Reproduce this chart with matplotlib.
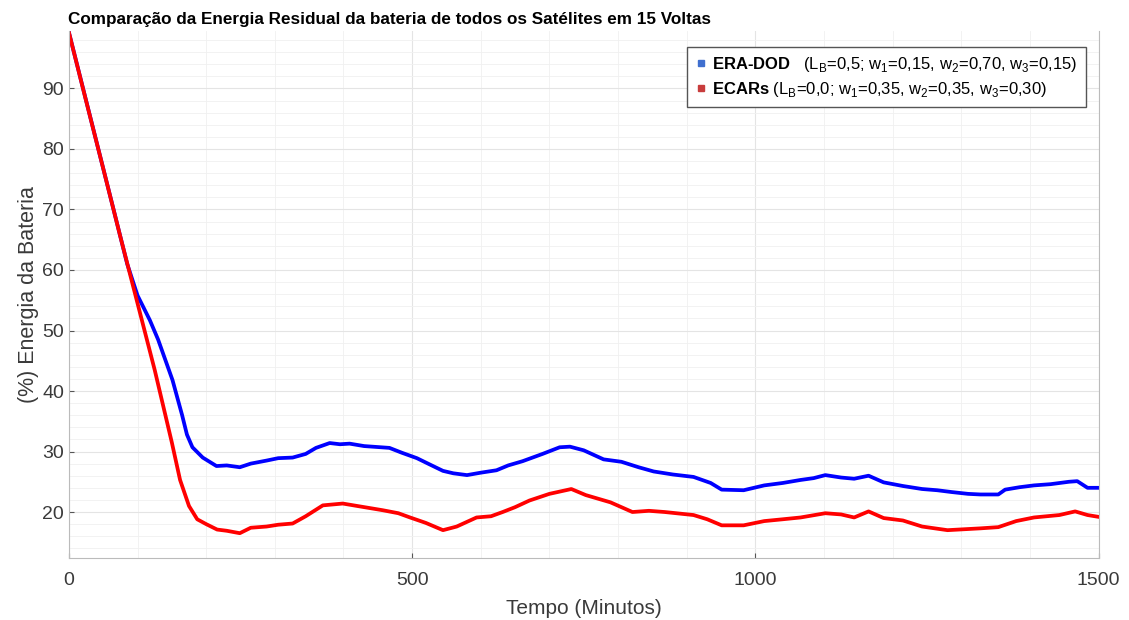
import matplotlib
matplotlib.use("Agg")
import matplotlib.pyplot as plt
from matplotlib.lines import Line2D
from matplotlib.ticker import MultipleLocator

# valores
tempo_era = [0, 20, 40, 60, 85, 100, 118, 130, 151, 165, 172, 180, 195, 215, 230,
             249, 265, 288, 305, 326, 345, 360, 380, 395, 409, 430, 467, 485, 507,
             525, 545, 560, 580, 600, 623, 640, 661, 690, 715, 730, 750, 779, 805,
             830, 852, 880, 910, 935, 951, 983, 1013, 1040, 1066, 1085, 1102, 1125,
             1144, 1165, 1187, 1215, 1243, 1265, 1286, 1310, 1328, 1354, 1364, 1385,
             1406, 1430, 1457, 1469, 1484, 1500]
era_dod = [99.3, 90.3, 81.3, 72.3, 61.0, 55.8, 51.7, 48.5, 41.8, 36.0, 32.8, 30.7,
           29.0, 27.6, 27.7, 27.4, 28.0, 28.5, 28.9, 29.0, 29.6, 30.6, 31.4, 31.2,
           31.3, 30.9, 30.6, 29.8, 28.9, 27.9, 26.8, 26.4, 26.1, 26.5, 26.9, 27.7,
           28.4, 29.6, 30.7, 30.8, 30.2, 28.7, 28.3, 27.4, 26.7, 26.2, 25.8, 24.8,
           23.7, 23.6, 24.4, 24.8, 25.3, 25.6, 26.1, 25.7, 25.5, 26.0, 24.9, 24.3,
           23.8, 23.6, 23.3, 23.0, 22.9, 22.9, 23.7, 24.1, 24.4, 24.6, 25.0, 25.1,
           24.0, 24.0]

tempo_ecars = [0, 25, 50, 75, 100, 125, 150, 162, 175, 187, 200, 216, 230, 249, 265,
               288, 305, 326, 345, 370, 399, 420, 457, 480, 497, 520, 545, 565, 594,
               615, 632, 650, 671, 700, 732, 753, 789, 821, 845, 868, 910, 930, 951,
               983, 1013, 1040, 1066, 1102, 1125, 1144, 1165, 1187, 1215, 1243, 1280,
               1328, 1354, 1380, 1406, 1443, 1466, 1484, 1500]
ecars = [99.3, 88.0, 76.8, 65.5, 54.5, 43.5, 31.5, 25.3, 21.0, 18.8, 18.0, 17.1,
         16.9, 16.5, 17.4, 17.6, 17.9, 18.1, 19.3, 21.1, 21.4, 21.0, 20.3, 19.8,
         19.1, 18.2, 17.0, 17.6, 19.1, 19.3, 20.0, 20.8, 21.9, 23.0, 23.8, 22.8,
         21.6, 20.0, 20.2, 20.0, 19.5, 18.8, 17.8, 17.8, 18.5, 18.8, 19.1, 19.8,
         19.6, 19.1, 20.1, 19.0, 18.6, 17.6, 17.0, 17.3, 17.5, 18.5, 19.1, 19.5,
         20.1, 19.5, 19.2]

rotulos = ["$\\mathbf{ERA\u2010DOD}$   (L$_\\mathrm{B}$=0,5; w$_\\mathrm{1}$=0,15, "
           "w$_\\mathrm{2}$=0,70, w$_\\mathrm{3}$=0,15)",
           "$\\mathbf{ECARs}$ (L$_\\mathrm{B}$=0,0; w$_\\mathrm{1}$=0,35, "
           "w$_\\mathrm{2}$=0,35, w$_\\mathrm{3}$=0,30)"]

plt.rcParams['font.family'] = ['Liberation Sans', 'DejaVu Sans']
plt.rcParams['mathtext.fontset'] = 'custom'
plt.rcParams['mathtext.rm'] = 'Liberation Sans'
plt.rcParams['mathtext.bf'] = 'Liberation Sans:bold'

fig = plt.figure(figsize=(11.29, 6.2), dpi=100)
ax = fig.add_axes([0.061, 0.10, 0.912, 0.85])

ax.plot(tempo_era, era_dod, color='#0000ff', lw=2.7)
ax.plot(tempo_ecars, ecars, color='#ff0000', lw=2.7)

ax.set_xlim(0, 1500)
ax.set_ylim(12.4, 99.5)
ax.set_xticks([0, 500, 1000, 1500])
ax.set_yticks([20, 30, 40, 50, 60, 70, 80, 90])
ax.xaxis.set_minor_locator(MultipleLocator(100))
ax.yaxis.set_minor_locator(MultipleLocator(2))
ax.grid(True, which='major', color='#e4e4e4', lw=0.8)
ax.grid(True, which='minor', color='#f0f0f0', lw=0.6)
ax.tick_params(which='both', direction='in', colors='#555555', labelsize=14,
               labelcolor='#3a3a3a')
ax.tick_params(which='minor', length=0)
ax.tick_params(axis='x', pad=10)
for s in ax.spines.values():
    s.set_color('#bbbbbb')
ax.spines['top'].set_visible(False)

ax.set_xlabel('Tempo (Minutos)', fontsize=15, color='#3a3a3a', labelpad=7)
ax.set_ylabel('(%) Energia da Bateria', fontsize=15.5, color='#3a3a3a', labelpad=2)
fig.text(0.060, 0.968, 'Comparação da Energia Residual da bateria de todos os Satélites em 15 Voltas',
         fontsize=12.3, fontweight='bold', ha='left', va='center')

handles = [Line2D([], [], ls='none', marker='s', ms=5, color='#3f6fcf'),
           Line2D([], [], ls='none', marker='s', ms=5, color='#c83c3c')]
leg = ax.legend(handles, rotulos, loc='upper right', bbox_to_anchor=(0.988, 0.97),
                borderaxespad=0, handlelength=0.6, handletextpad=0.4, borderpad=0.5,
                labelspacing=0.35, fancybox=False, framealpha=1,
                prop={'size': 12})
leg.get_frame().set_edgecolor('#555555')
leg.get_frame().set_linewidth(1.0)

fig.savefig('out.png', dpi=100)
